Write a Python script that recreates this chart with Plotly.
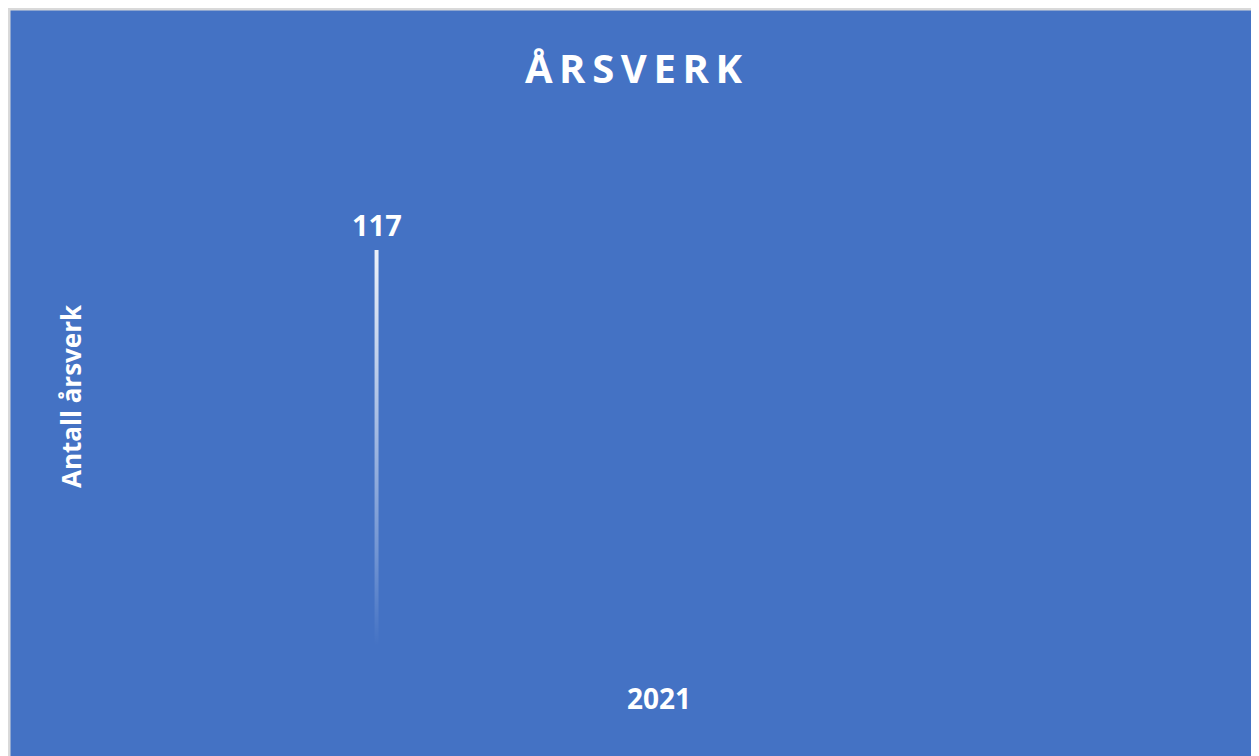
import plotly.graph_objects as go

# ---- data ----
categories = ["2021"]
values = [117]
title_text = "ÅRSVERK"
y_title = "Antall årsverk"

# ---- style / layout constants ----
BG = "#4472C4"
FONT = "Open Sans"
W, H = 1251, 748
ML, MR, MT, MB = 100, 49, 100, 76
PW, PH = W - ML - MR, H - MT - MB
Y_MAX = 155.6
BAR_OFFSET = -0.2563   # offset of the bar from its category centre (category units)
BAR_WIDTH = 0.0036

fig = go.Figure()

for i, (cat, v) in enumerate(zip(categories, values)):
    xc = i + BAR_OFFSET
    x0, x1 = xc - BAR_WIDTH / 2, xc + BAR_WIDTH / 2
    fig.add_trace(go.Scatter(
        x=[x0, x0, x1, x1, x0], y=[0, v, v, 0, 0],
        mode="lines", line=dict(width=0), fill="toself",
        fillgradient=dict(type="vertical",
                          colorscale=[[0, "rgba(255,255,255,0)"],
                                      [0.08, "rgba(255,255,255,0)"],
                                      [0.3, "rgba(255,255,255,0.25)"],
                                      [1, "rgba(255,255,255,0.9)"]]),
        hoverinfo="skip", showlegend=False,
    ))
    fig.add_annotation(x=xc, y=v, text=f"<b>{v}</b>", showarrow=False,
                       yanchor="bottom", yshift=4,
                       font=dict(family=FONT, size=29, color="white"))

spaced_title = "\u2009".join(title_text)

fig.update_layout(
    width=W, height=H,
    margin=dict(l=ML, r=MR, t=MT, b=MB),
    paper_bgcolor=BG, plot_bgcolor=BG,
    title=dict(text=f"<b>{spaced_title}</b>", x=0.5, xanchor="center",
               y=1 - 61 / H, yanchor="middle",
               font=dict(family=FONT, size=40, color="white")),
    xaxis=dict(range=[-0.5, 0.5], tickvals=list(range(len(categories))),
               ticktext=[f"<b>{c}</b>" for c in categories],
               showgrid=False, zeroline=False, showline=False, ticks="",
               ticklabelstandoff=0,
               tickfont=dict(family=FONT, size=28, color="white"),
               fixedrange=True),
    yaxis=dict(range=[0, Y_MAX], visible=False, fixedrange=True),
    showlegend=False,
)

fig.add_annotation(xref="paper", yref="paper",
                   x=(63 - ML) / PW, y=(PH - (388 - MT)) / PH,
                   text=f"<b>{y_title}</b>", textangle=-90, showarrow=False,
                   xanchor="center", yanchor="middle",
                   font=dict(family=FONT, size=26, color="white"))

# light grey frame on the left and top edges
fig.add_shape(type="line", xref="paper", yref="paper",
              x0=(-ML + 1) / PW, x1=(-ML + 1) / PW, y0=-MB / PH, y1=(PH + MT) / PH,
              line=dict(color="#D9D9D9", width=3))
fig.add_shape(type="line", xref="paper", yref="paper",
              x0=-ML / PW, x1=(PW + MR) / PW, y0=(PH + MT - 1) / PH, y1=(PH + MT - 1) / PH,
              line=dict(color="#D9D9D9", width=3))

fig.write_html("out.html")
